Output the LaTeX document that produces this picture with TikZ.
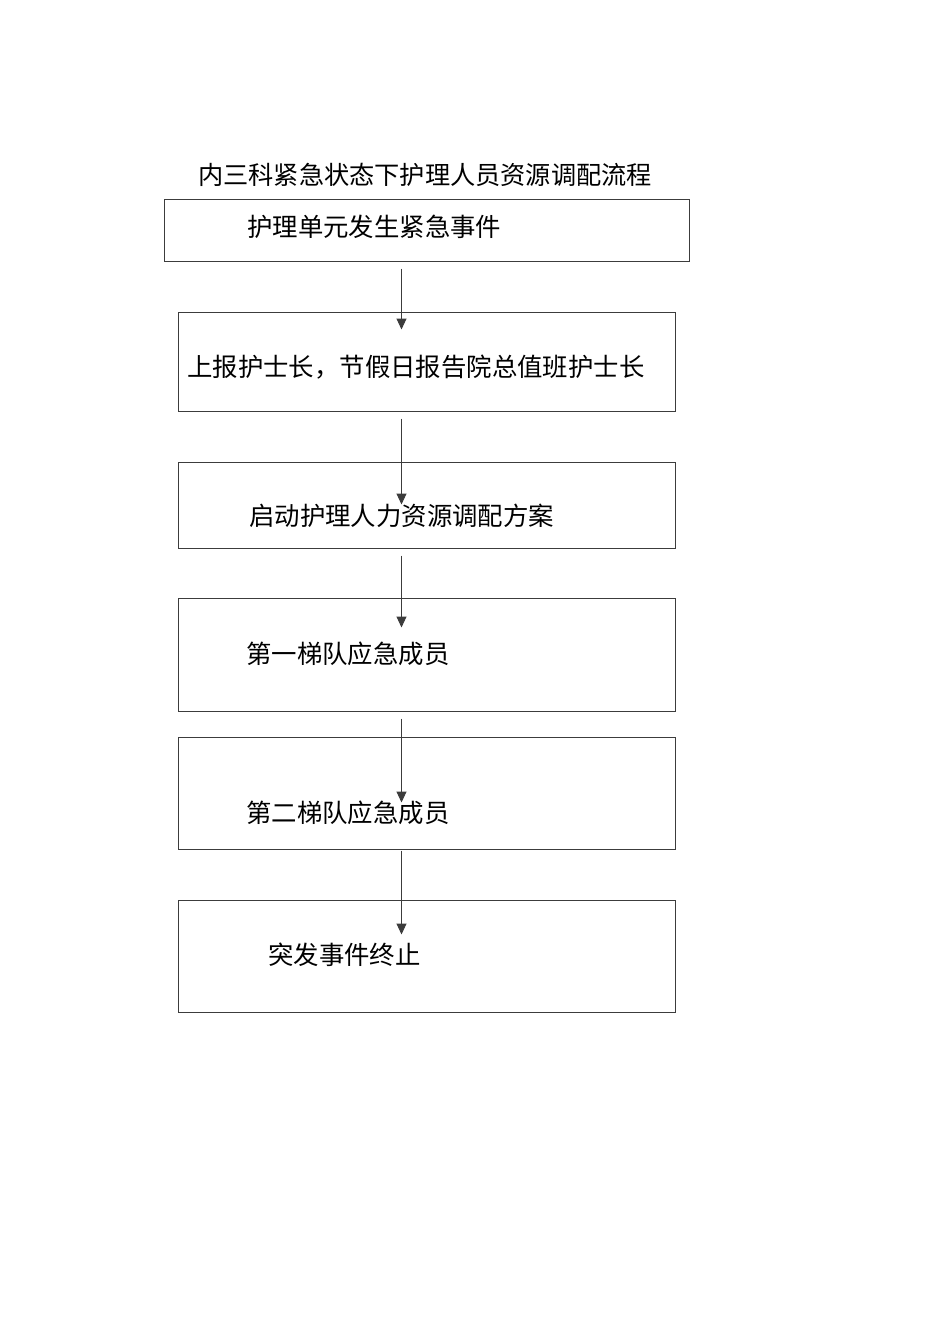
\documentclass[tikz,border=0pt]{standalone}
\usepackage{fontspec}
\setmainfont{Noto Sans CJK SC}
\usetikzlibrary{calc}
\usetikzlibrary{positioning}
\usetikzlibrary{arrows.meta}
\definecolor{gray1}	{RGB}{60,60,60}
\tikzstyle{stepbox}=	[draw=gray1, line width=1pt, inner sep=0pt, minimum width=497pt]
\tikzstyle{topbox}=	[stepbox, minimum width=525pt]
\tikzstyle{btext}=	[anchor=west, inner sep=0pt, font=\fontsize{25.4}{30}\selectfont]
\tikzstyle{title}=	[inner sep=0pt, font=\fontsize{25.2}{30}\selectfont]
\tikzstyle{flow}=	[draw=gray1, line width=1pt, -{Triangle[length=11pt,width=10pt]}]

\begin{document}
\begin{tikzpicture}[x=1pt, y=-1pt]
	\useasboundingbox (0,0) rectangle (950,1344);

	%%% title
	\node[title] (tt) at (425,175) {内三科紧急状态下护理人员资源调配流程};

	%%% boxes
	% frames
	\node[topbox, minimum height=62pt]	(b1) at (426.5,230)	{};
	\node[stepbox, minimum height=99pt]	(b2) at (426.5,361.5)	{};
	\node[stepbox, minimum height=86pt]	(b3) at (426.5,505)	{};
	\node[stepbox, minimum height=113pt]	(b4) at (426.5,654.5)	{};
	\node[stepbox, minimum height=112pt]	(b5) at (426.5,793)	{};
	\node[stepbox, minimum height=112pt]	(b6) at (426.5,956)	{};

	% texts
	\node[btext] (b1t) at (247,227) {护理单元发生紧急事件};
	\node[btext] (b2t) at (187,367) {上报护士长，节假日报告院总值班护士长};
	\node[btext] (b3t) at (249,516) {启动护理人力资源调配方案};
	\node[btext] (b4t) at (246,654) {第一梯队应急成员};
	\node[btext] (b5t) at (246,813) {第二梯队应急成员};
	\node[btext] (b6t) at (268,955) {突发事件终止};

	%%% arrows
	\draw[flow] ($(b1.south)+(-25,7)$) -- ($(b2.north)+(-25,18)$);
	\draw[flow] ($(b2.south)+(-25,7)$) -- ($(b3.north)+(-25,43)$);
	\draw[flow] ($(b3.south)+(-25,7)$) -- ($(b4.north)+(-25,30)$);
	\draw[flow] ($(b4.south)+(-25,7)$) -- ($(b5.north)+(-25,66)$);
	\draw[flow] ($(b5.south)+(-25,1)$) -- ($(b6.north)+(-25,35)$);

\end{tikzpicture}
\end{document}
